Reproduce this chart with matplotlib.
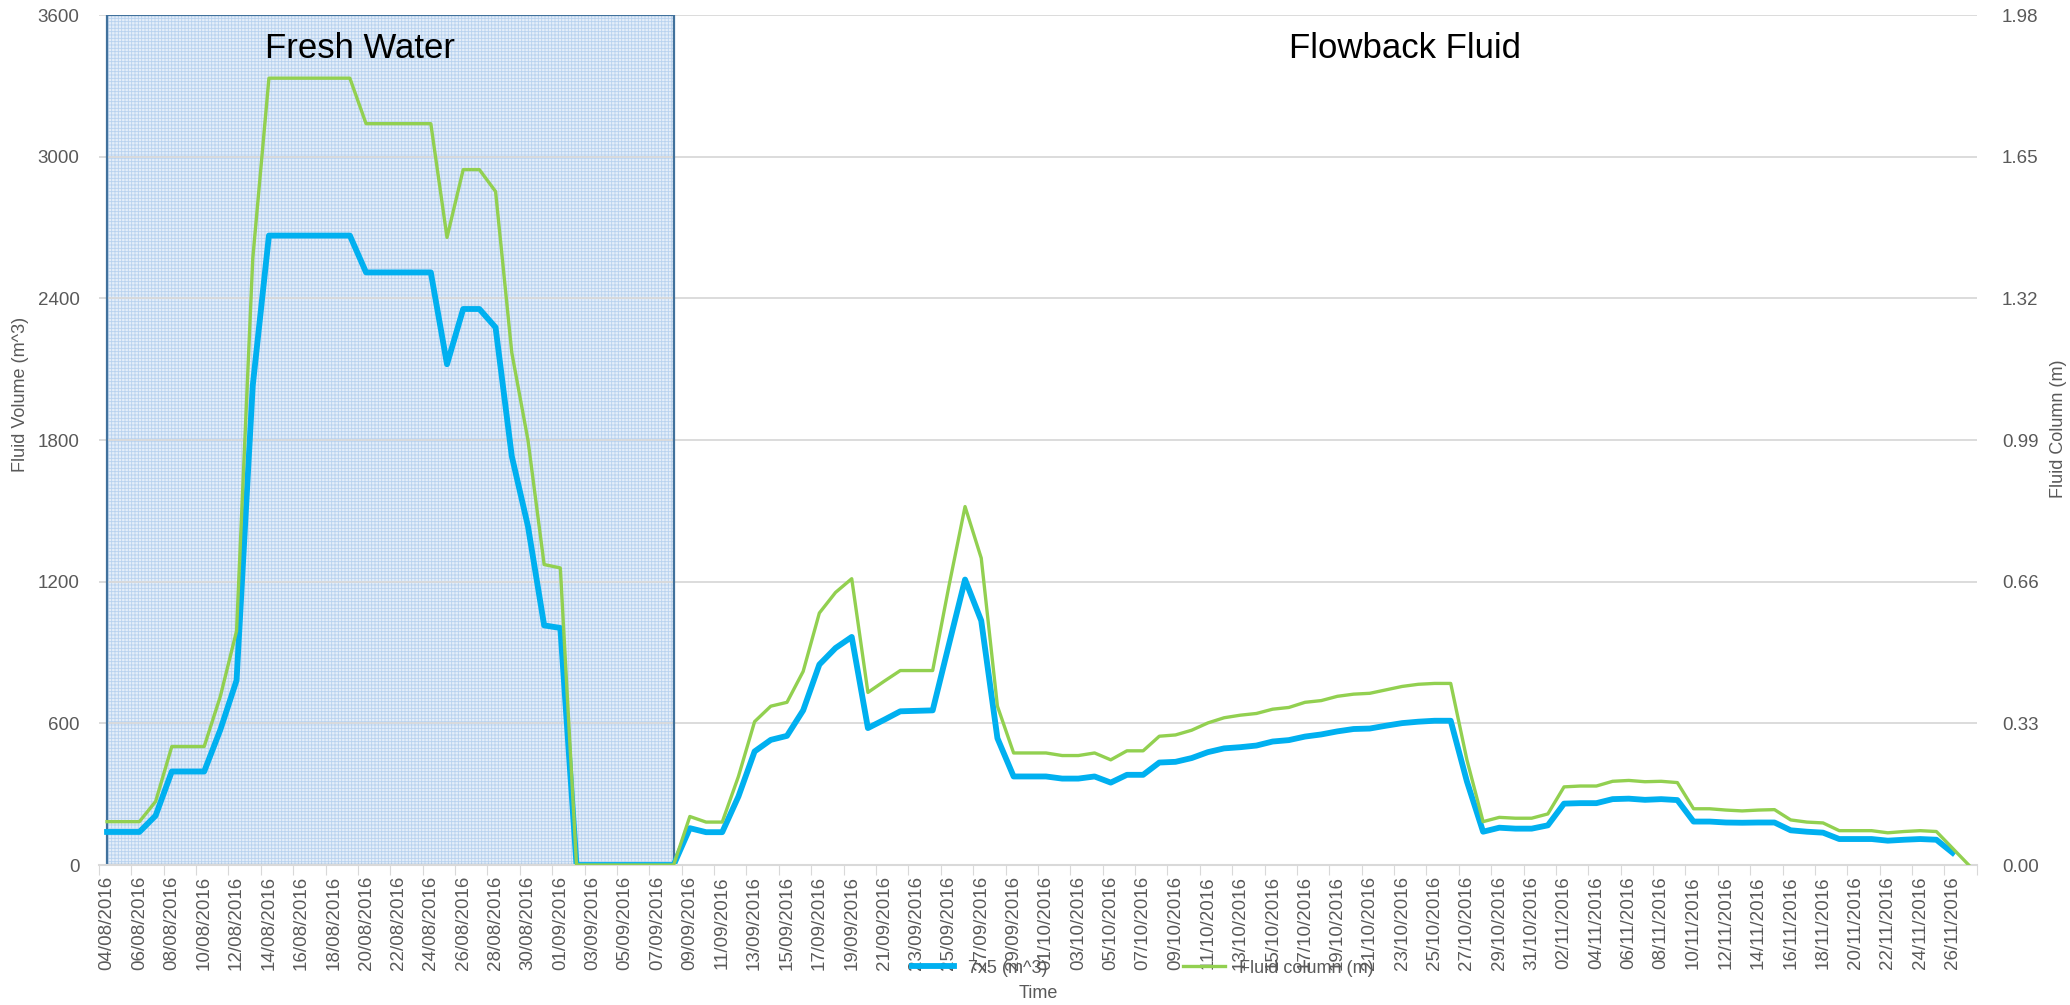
import numpy as np
import pandas as pd
import matplotlib
matplotlib.use('Agg')
import matplotlib.pyplot as plt
from matplotlib.patches import Rectangle

plt.rcParams['font.family'] = ['Liberation Sans', 'DejaVu Sans']
plt.rcParams['hatch.linewidth'] = 0.6

# daily categories 04/08/2016 .. 27/11/2016
dates = pd.date_range('2016-08-04', '2016-11-27', freq='D')
date_labels = [d.strftime('%d/%m/%Y') for d in dates]

# 7x5 tank volume (m^3), left axis
volume = [140, 140, 140, 209, 396, 396, 396, 573, 782, 2030,
          2666, 2666, 2666, 2666, 2666, 2666, 2510, 2510, 2510, 2510,
          2510, 2121, 2355, 2355, 2277, 1732, 1435, 1015, 1004, 0,
          0, 0, 0, 0, 0, 0, 156, 139, 139, 290,
          481, 530, 547, 655, 849, 919, 966, 580, 615, 651,
          653, 655, 933, 1209, 1035, 537, 375, 375, 375, 366,
          366, 375, 349, 382, 382, 434, 437, 453, 478, 494,
          499, 506, 523, 529, 544, 553, 566, 576, 578, 590,
          601, 607, 611, 611, 354, 141, 158, 154, 154, 168,
          260, 262, 262, 279, 281, 276, 279, 275, 184, 184,
          180, 179, 180, 180, 147, 141, 137, 110, 110, 110,
          103, 107, 110, 107, 52, np.nan]

# fluid column (m), right axis
column = [0.101, 0.101, 0.101, 0.148, 0.276, 0.276, 0.276, 0.393, 0.545, 1.412,
          1.833, 1.833, 1.833, 1.833, 1.833, 1.833, 1.727, 1.727, 1.727, 1.727,
          1.727, 1.462, 1.620, 1.620, 1.569, 1.194, 0.990, 0.700, 0.692, 0.0,
          0.0, 0.0, 0.0, 0.0, 0.0, 0.0, 0.113, 0.100, 0.100, 0.206,
          0.334, 0.370, 0.379, 0.451, 0.587, 0.635, 0.667, 0.402, 0.428, 0.453,
          0.453, 0.453, 0.649, 0.835, 0.715, 0.370, 0.261, 0.261, 0.261, 0.255,
          0.255, 0.261, 0.245, 0.266, 0.266, 0.300, 0.303, 0.314, 0.331, 0.343,
          0.349, 0.353, 0.363, 0.367, 0.379, 0.383, 0.393, 0.398, 0.400, 0.408,
          0.416, 0.421, 0.423, 0.423, 0.245, 0.101, 0.111, 0.109, 0.109, 0.119,
          0.182, 0.184, 0.184, 0.195, 0.197, 0.194, 0.195, 0.192, 0.131, 0.131,
          0.128, 0.126, 0.128, 0.129, 0.105, 0.100, 0.098, 0.080, 0.080, 0.080,
          0.075, 0.078, 0.080, 0.078, 0.039, 0.0]

fresh_end = 35  # index of 08/09/2016, end of fresh water period

x = np.arange(len(dates))
grey = '#595959'

fig, ax = plt.subplots(figsize=(20.7, 10.05), dpi=100)
fig.subplots_adjust(left=0.0478, right=0.955, bottom=0.1393, top=0.985)

# fresh water shaded block
ax.add_patch(Rectangle((0, 0), fresh_end, 3600, facecolor='#e4eef9', edgecolor='#b8d2ef',
                       hatch='+++++', linewidth=0, zorder=0.3))
ax.add_patch(Rectangle((0, 0), fresh_end, 3600, fill=False, edgecolor='#41719c',
                       linewidth=1.6, zorder=1.5))

line1, = ax.plot(x, volume, color='#00b0f0', linewidth=4.2, label='7x5 (m^3)', zorder=2)

ax.set_xlim(-0.5, len(dates) - 0.5)
ax.set_ylim(0, 3600)
ax.set_yticks(np.arange(0, 3601, 600))

# category axis: tick marks between categories, labels every 2 days
ax.set_xticks(np.arange(-0.5, len(dates), 2))
ax.set_xticklabels([])
ax.set_xticks(x[::2], minor=True)
ax.set_xticklabels(date_labels[::2], minor=True, rotation=90, fontsize=13.5, color=grey)
ax.tick_params(axis='x', which='major', length=7, color='#d9d9d9')
ax.tick_params(axis='x', which='minor', length=0, pad=8)
ax.tick_params(axis='y', length=0, labelsize=13.5, labelcolor=grey, pad=14)

ax.spines['top'].set_visible(False)
ax.spines['right'].set_visible(False)
ax.spines['left'].set_visible(False)
ax.spines['bottom'].set_color('#d9d9d9')
ax.spines['bottom'].set_linewidth(1.5)
ax.set_axisbelow(True)
ax.yaxis.grid(True, color='#d9d9d9', linewidth=1.3)

ax.set_ylabel('Fluid Volume (m^3)', fontsize=13, color=grey)
ax.yaxis.set_label_coords(-0.037, 0.554)

ax2 = ax.twinx()
line2, = ax2.plot(x, column, color='#92d050', linewidth=2.4, label='Fluid column (m)')
ax2.set_ylim(0, 1.98)
ax2.set_yticks(np.arange(0, 1.99, 0.33))
ax2.set_yticklabels(['%.2f' % t for t in np.arange(0, 1.99, 0.33)])
ax2.tick_params(axis='y', length=0, labelsize=13.5, labelcolor=grey, pad=18)
for s in ax2.spines.values():
    s.set_visible(False)
ax2.set_ylabel('Fluid Column (m)', fontsize=13, color=grey)
ax2.yaxis.set_label_coords(1.039, 0.513)

ax.text(360 / 2070, 1 - 49 / 1005, 'Fresh Water', transform=fig.transFigure,
        fontsize=25, ha='center', va='center', color='black')
ax.text(1405 / 2070, 1 - 49 / 1005, 'Flowback Fluid', transform=fig.transFigure,
        fontsize=25, ha='center', va='center', color='black')

fig.text(1038 / 2070, 1 - 993 / 1005, 'Time', fontsize=13, color=grey, ha='center', va='center')

leg = fig.legend(handles=[line1, line2], loc='center', bbox_to_anchor=(1143 / 2070, 1 - 968 / 1005),
                 ncol=2, frameon=False, fontsize=13, handlelength=2.3, columnspacing=7.5)
for t in leg.get_texts():
    t.set_color(grey)

plt.savefig('out.png', dpi=100)
